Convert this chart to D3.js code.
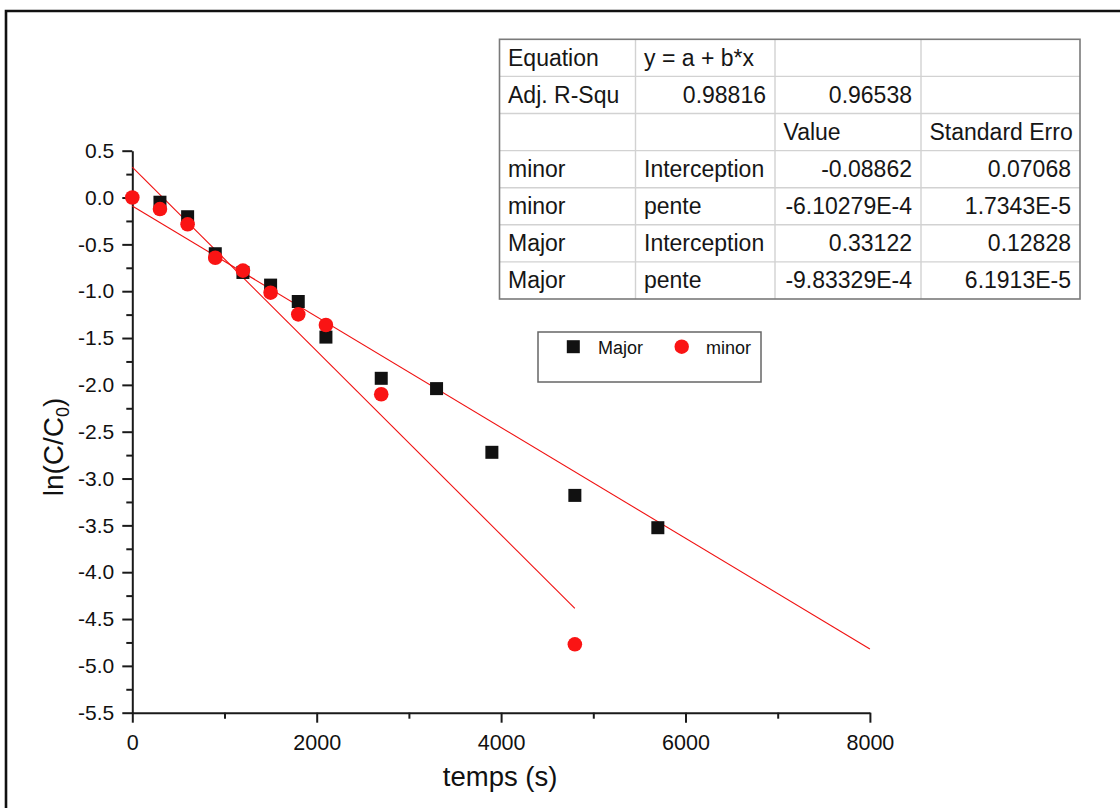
<!DOCTYPE html>
<html>
<head>
<meta charset="utf-8">
<script src="https://cdn.jsdelivr.net/npm/d3@7"></script>
<style>
  html, body { margin: 0; padding: 0; background: #fff; }
  svg { display: block; font-family: "Liberation Sans", Arial, sans-serif; }
</style>
</head>
<body>
<svg id="chart" width="1120" height="808"></svg>
<script>
// ---------- data ----------
const majorX = [300, 600, 900, 1200, 1500, 1800, 2100, 2700, 3300, 3900, 4800, 5700];
const majorY = [-0.05, -0.205, -0.60, -0.80, -0.935, -1.11, -1.49, -1.93, -2.04, -2.72, -3.18, -3.525];
const minorX = [0, 300, 600, 900, 1200, 1500, 1800, 2100, 2700, 4800];
const minorY = [0, -0.123, -0.286, -0.643, -0.78, -1.016, -1.247, -1.361, -2.10, -4.77];
// fitted lines (endpoints)
const fitSteepX = [0, 4800];
const fitSteepY = [0.325, -4.387];
const fitShallowX = [0, 8000];
const fitShallowY = [-0.09, -4.82];

const xTicks = [0, 2000, 4000, 6000, 8000];
const xMinorTicks = [1000, 3000, 5000, 7000];
const yTicks = [0.5, 0.0, -0.5, -1.0, -1.5, -2.0, -2.5, -3.0, -3.5, -4.0, -4.5, -5.0, -5.5];
const yMinorTicks = [0.25, -0.25, -0.75, -1.25, -1.75, -2.25, -2.75, -3.25, -3.75, -4.25, -4.75, -5.25];

const legendLabels = ["Major", "minor"];

const tableRows = [
  ["Equation", "y = a + b*x", "", ""],
  ["Adj. R-Squ", "0.98816", "0.96538", ""],
  ["", "", "Value", "Standard Erro"],
  ["minor", "Interception", "-0.08862", "0.07068"],
  ["minor", "pente", "-6.10279E-4", "1.7343E-5"],
  ["Major", "Interception", "0.33122", "0.12828"],
  ["Major", "pente", "-9.83329E-4", "6.1913E-5"]
];

// ---------- layout ----------
const svg = d3.select("#chart");
const pL = 132.3, pR = 869.9, pT = 150.7, pB = 712.7;

const x = d3.scaleLinear().domain([0, 8000]).range([pL, pR]);
const y = d3.scaleLinear().domain([-5.5, 0.5]).range([pB, pT]);

// outer frame
svg.append("path")
  .attr("d", "M6,830 L6,11 L1130,11")
  .attr("fill", "none").attr("stroke", "#111").attr("stroke-width", 2.6);

// ---------- axes ----------
const axisColor = "#1a1a1a";
const yAxis = svg.append("g").attr("transform", `translate(${pL},0)`)
  .call(d3.axisLeft(y).tickValues(yTicks).tickSize(10).tickSizeOuter(0).tickPadding(8)
    .tickFormat(d => d3.format(".1f")(d).replace("\u2212", "-")));
yAxis.select(".domain").attr("stroke", axisColor).attr("stroke-width", 2);
yAxis.selectAll(".tick line").attr("stroke", axisColor).attr("stroke-width", 2);
yAxis.selectAll(".tick text").attr("font-size", 21).attr("fill", "#111")
  .attr("font-family", "Liberation Sans, Arial, sans-serif");

const yMinor = svg.append("g").attr("transform", `translate(${pL},0)`)
  .call(d3.axisLeft(y).tickValues(yMinorTicks).tickSize(6).tickFormat(""));
yMinor.select(".domain").remove();
yMinor.selectAll(".tick line").attr("stroke", axisColor).attr("stroke-width", 2);

const xAxis = svg.append("g").attr("transform", `translate(0,${pB})`)
  .call(d3.axisBottom(x).tickValues(xTicks).tickSize(10).tickSizeOuter(0).tickPadding(12)
    .tickFormat(d3.format("d")));
xAxis.select(".domain").attr("stroke", axisColor).attr("stroke-width", 2);
xAxis.selectAll(".tick line").attr("stroke", axisColor).attr("stroke-width", 2);
xAxis.selectAll(".tick text").attr("font-size", 21.5).attr("fill", "#111")
  .attr("font-family", "Liberation Sans, Arial, sans-serif");

const xMinor = svg.append("g").attr("transform", `translate(0,${pB})`)
  .call(d3.axisBottom(x).tickValues(xMinorTicks).tickSize(6).tickFormat(""));
xMinor.select(".domain").remove();
xMinor.selectAll(".tick line").attr("stroke", axisColor).attr("stroke-width", 2);

// axis titles
svg.append("text")
  .attr("x", (pL + pR) / 2 - 1).attr("y", 786)
  .attr("text-anchor", "middle").attr("font-size", 27.5).attr("fill", "#111")
  .text("temps (s)");

const yl = svg.append("text")
  .attr("transform", "translate(63,447) rotate(-90)")
  .attr("text-anchor", "middle").attr("font-size", 28).attr("fill", "#111");
yl.append("tspan").text("ln(C/C");
yl.append("tspan").attr("font-size", 18).attr("dy", 6).text("0");
yl.append("tspan").attr("dy", -6).text(")");

// ---------- fit lines ----------
const line = d3.line().x(d => x(d[0])).y(d => y(d[1]));
svg.append("path").datum(d3.zip(fitSteepX, fitSteepY))
  .attr("d", line).attr("fill", "none").attr("stroke", "#f01010").attr("stroke-width", 1.1);
svg.append("path").datum(d3.zip(fitShallowX, fitShallowY))
  .attr("d", line).attr("fill", "none").attr("stroke", "#f01010").attr("stroke-width", 1.1);

// ---------- points ----------
const sq = 13;
svg.append("g").selectAll("rect").data(d3.zip(majorX, majorY)).join("rect")
  .attr("x", d => x(d[0]) - sq / 2).attr("y", d => y(d[1]) - sq / 2)
  .attr("width", sq).attr("height", sq).attr("fill", "#111");

svg.append("g").selectAll("circle").data(d3.zip(minorX, minorY)).join("circle")
  .attr("cx", d => x(d[0])).attr("cy", d => y(d[1])).attr("r", 7.3)
  .attr("fill", "#fa1414");

// ---------- legend ----------
const lg = svg.append("g");
lg.append("rect").attr("x", 538).attr("y", 332).attr("width", 223).attr("height", 50)
  .attr("fill", "none").attr("stroke", "#666").attr("stroke-width", 1.5);
lg.append("rect").attr("x", 573.3 - 6.5).attr("y", 346.7 - 6.5).attr("width", 13).attr("height", 13)
  .attr("fill", "#111");
lg.append("text").attr("x", 598).attr("y", 353.5).attr("font-size", 18).attr("fill", "#111")
  .text(legendLabels[0]);
lg.append("circle").attr("cx", 681.7).attr("cy", 346.7).attr("r", 7.2).attr("fill", "#fa1414");
lg.append("text").attr("x", 706).attr("y", 353.5).attr("font-size", 18).attr("fill", "#111")
  .text(legendLabels[1]);

// ---------- table ----------
const colEdges = [499.5, 635.5, 775, 921, 1080];
const tTop = 39.3, rowH = 37.1;
const tg = svg.append("g");
tableRows.forEach((row, i) => {
  if (i > 0) tg.append("line").attr("x1", colEdges[0]).attr("x2", colEdges[4])
    .attr("y1", tTop + i * rowH).attr("y2", tTop + i * rowH)
    .attr("stroke", "#d2d2d2").attr("stroke-width", 1.4);
});
colEdges.slice(1, 4).forEach(cx => {
  tg.append("line").attr("x1", cx).attr("x2", cx)
    .attr("y1", tTop).attr("y2", tTop + tableRows.length * rowH)
    .attr("stroke", "#d2d2d2").attr("stroke-width", 1.4);
});
tg.append("rect").attr("x", colEdges[0]).attr("y", tTop)
  .attr("width", colEdges[4] - colEdges[0]).attr("height", tableRows.length * rowH)
  .attr("fill", "none").attr("stroke", "#7a7a7a").attr("stroke-width", 1.6);

const clip = svg.append("defs").append("clipPath").attr("id", "tclip");
clip.append("rect").attr("x", colEdges[0]).attr("y", tTop).attr("width", colEdges[4] - colEdges[0] - 4)
  .attr("height", tableRows.length * rowH);
const tt = tg.append("g").attr("clip-path", "url(#tclip)");
tableRows.forEach((row, i) => {
  row.forEach((cell, j) => {
    if (!cell) return;
    const isNum = /^-?[0-9]/.test(cell);
    const txt = tt.append("text")
      .attr("y", tTop + i * rowH + 26.5)
      .attr("font-size", 23).attr("fill", "#161616").text(cell);
    if (isNum) txt.attr("x", colEdges[j + 1] - 9).attr("text-anchor", "end");
    else txt.attr("x", colEdges[j] + 8.5).attr("text-anchor", "start");
  });
});
</script>
</body>
</html>
